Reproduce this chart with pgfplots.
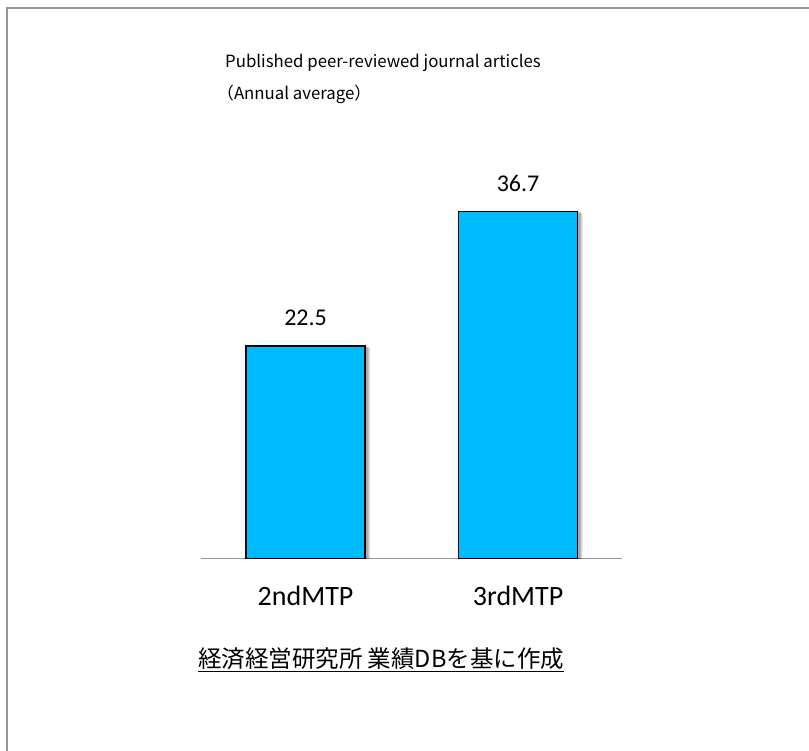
\documentclass[border=0pt]{standalone}
\usepackage{fontspec}
\setmainfont{Carlito}
\newfontfamily\cjk{Noto Sans CJK JP}
\usepackage{pgfplots}
\pgfplotsset{compat=1.18}
\definecolor{barblue}{RGB}{0,186,255}
\definecolor{framegray}{RGB}{150,150,150}
\begin{document}
\begin{tikzpicture}
\path[use as bounding box] (0,0) rectangle (809bp,751bp);
\draw[framegray, line width=1.5bp] (7bp,0) -- (7bp,743bp) -- (809bp,743bp);
\node[anchor=base west, inner sep=0pt, font=\cjk\fontsize{16.8bp}{20bp}\selectfont] at (225bp,683bp) {Published peer-reviewed journal articles};
\node[anchor=base west, inner sep=0pt, font=\cjk\fontsize{16.8bp}{20bp}\selectfont] at (217bp,651bp) {（Annual average）};
\begin{axis}[
  at={(201bp,192bp)}, anchor=south west,
  scale only axis, width=421bp, height=378.8bp,
  xmin=-0.492, xmax=1.489, ymin=0, ymax=40,
  ybar, bar width=119bp,
  axis x line*=bottom, hide y axis,
  x axis line style={framegray, line width=1bp},
  xtick={0,1}, xticklabels={2ndMTP,3rdMTP},
  major tick length=0pt,
  /pgf/number format/assume math mode=true,
  xticklabel style={anchor=base, yshift=-46bp, inner sep=0pt, font=\fontsize{28bp}{32bp}\selectfont},
]
\addplot[forget plot, fill=black, draw=none, fill opacity=0.10, bar shift=6bp, bar width=117bp]
  coordinates {(0,22.3) (1,36.5)};
\addplot[forget plot, fill=black, draw=none, fill opacity=0.12, bar shift=4.5bp, bar width=118bp]
  coordinates {(0,22.4) (1,36.6)};
\addplot[forget plot, fill=black, draw=none, fill opacity=0.15, bar shift=3bp]
  coordinates {(0,22.45) (1,36.65)};
\addplot[fill=barblue, draw=black, line width=1.5bp, bar shift=0pt,
  nodes near coords,
  every node near coord/.append style={anchor=base, yshift=20bp, inner sep=0pt, font=\fontsize{24bp}{28bp}\selectfont, black}]
  coordinates {(0,22.5) (1,36.7)};
\end{axis}
\node[anchor=base west, inner sep=0pt, font=\cjk\fontsize{23.5bp}{28bp}\selectfont] at (198bp,83bp) {\underline{経済経営研究所 業績DBを基に作成}};
\end{tikzpicture}
\end{document}
